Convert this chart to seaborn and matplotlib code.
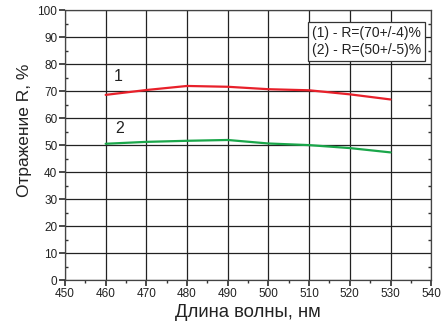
import matplotlib
matplotlib.use("Agg")
import matplotlib.pyplot as plt
import seaborn as sns
import pandas as pd
from matplotlib.ticker import MultipleLocator

wavelength = [460, 470, 480, 490, 500, 510, 520, 530]
r1 = [68.6, 70.4, 71.9, 71.6, 70.7, 70.3, 68.8, 66.9]
r2 = [50.5, 51.2, 51.6, 51.9, 50.6, 50.0, 48.9, 47.3]
legend_lines = ["(1) - R=(70+/-4)%", "(2) - R=(50+/-5)%"]

sns.set_theme(style="ticks")
plt.rcParams['font.family'] = ['Liberation Sans', 'DejaVu Sans']

df = pd.DataFrame({"x": wavelength * 2, "y": r1 + r2,
                   "s": ["1"] * len(r1) + ["2"] * len(r2)})

fig = plt.figure(figsize=(4.45, 3.25), dpi=100)
ax = fig.add_axes([0.146, 0.138, 0.823, 0.831])
sns.lineplot(data=df, x="x", y="y", hue="s", palette={"1": "#e8202a", "2": "#1aa64a"},
             linewidth=1.6, legend=False, ax=ax)

ax.set_xlim(450, 540)
ax.set_ylim(0, 100)
ax.xaxis.set_major_locator(MultipleLocator(10))
ax.yaxis.set_major_locator(MultipleLocator(10))
ax.xaxis.set_minor_locator(MultipleLocator(5))
ax.yaxis.set_minor_locator(MultipleLocator(5))
ax.grid(True, which="major", color="#222222", linewidth=0.9)
ax.set_axisbelow(True)
for s in ax.spines.values():
    s.set_color("#444444")
    s.set_linewidth(0.9)
ax.tick_params(which="both", direction="out", color="#333333", labelsize=8.5,
               labelcolor="#222222", pad=1.5)
ax.tick_params(which="major", length=4)
ax.tick_params(which="minor", length=2.5)
ax.tick_params(axis="y", right=True, which="minor", direction="in")
ax.set_xlabel("Длина волны, нм", fontsize=13.3, labelpad=3, color="#222222")
ax.set_ylabel("Отражение R, %", fontsize=12.5, labelpad=4, color="#222222")
ax.yaxis.set_label_coords(-0.09, 0.555)

ax.text(463, 75.5, "1", fontsize=11.5, ha="center", va="center", color="#222222")
ax.text(463.5, 56.3, "2", fontsize=11.5, ha="center", va="center", color="#222222")
ax.text(0.675, 0.883, "\n".join(legend_lines), transform=ax.transAxes, fontsize=10,
        ha="left", va="center", color="#222222", linespacing=1.25,
        bbox=dict(boxstyle="square,pad=0.3", facecolor="white", edgecolor="#333333",
                  linewidth=0.9))

fig.savefig("out.png", dpi=100)
